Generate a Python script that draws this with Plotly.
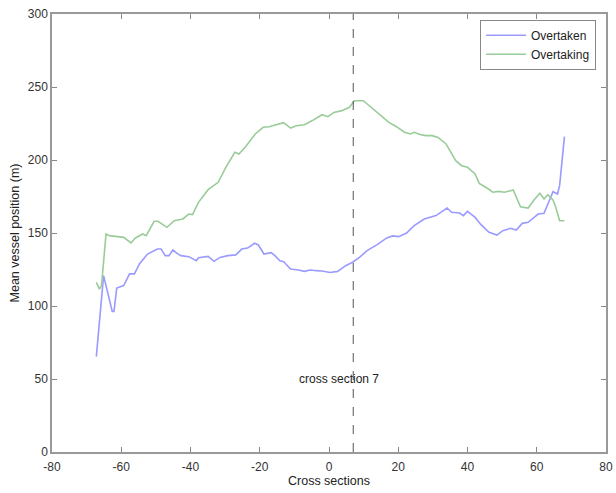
import plotly.graph_objects as go

overtaken_x = [-67.2, -65.1, -62.6, -62.1, -61.3, -59.3, -57.6, -56.2, -54.7, -52.4, -49.6, -48.5, -47.3, -46.2,
               -45.1, -43.9, -42.8, -40.5, -38.3, -37.7, -34.9, -33.2, -31.5, -29.2, -26.9, -25.2, -23.5, -21.5,
               -20.4, -18.8, -16.7, -15.6, -14.2, -13.1, -11.1, -8.8, -7.1, -5.4, -3.7, -2.0, 0.3, 2.5, 4.8, 6.8,
               8.8, 11.0, 13.9, 16.7, 18.4, 20.1, 22.4, 24.6, 27.5, 29.2, 30.9, 32.6, 34.1, 35.4, 37.7, 38.8, 40.0,
               42.2, 43.9, 46.2, 48.5, 50.2, 52.4, 54.1, 55.8, 57.5, 58.7, 60.4, 62.1, 63.2, 64.7, 66.0, 66.6, 68.0]
overtaken_y = [65.3, 120.8, 96.3, 96.3, 112.3, 114.0, 122.0, 122.0, 129.0, 135.6, 139.0, 139.0, 134.5, 134.5,
               138.4, 136.0, 134.5, 133.8, 131.0, 133.0, 134.0, 130.6, 133.3, 134.5, 135.0, 139.0, 139.7, 143.0,
               141.8, 135.6, 136.5, 134.5, 131.0, 130.4, 125.3, 124.7, 123.7, 124.7, 124.2, 124.0, 123.0, 123.7,
               127.6, 130.0, 133.3, 137.9, 142.0, 146.6, 148.0, 147.5, 150.0, 155.0, 159.6, 160.7, 161.9, 164.6,
               167.1, 164.2, 163.7, 161.9, 164.8, 160.7, 155.7, 150.5, 148.6, 151.6, 153.2, 152.0, 156.6, 157.3,
               159.6, 163.0, 163.5, 169.4, 178.3, 176.7, 182.4, 216.0]

overtaking_x = [-67.2, -66.3, -65.7, -64.4, -63.4, -61.0, -59.3, -57.2, -55.9, -53.8, -52.8, -50.5, -49.4, -46.8,
                -44.7, -42.2, -40.5, -39.4, -37.7, -34.9, -33.2, -32.0, -29.8, -27.2, -26.0, -24.1, -21.3, -19.0,
                -17.3, -16.2, -14.5, -13.1, -11.1, -9.4, -7.1, -4.8, -2.0, -0.3, 1.4, 3.7, 5.9, 7.3, 9.9, 11.6,
                13.9, 17.3, 19.5, 21.8, 23.5, 24.6, 26.3, 28.0, 29.8, 31.5, 33.8, 36.6, 38.3, 40.0, 42.2, 43.4,
                45.6, 47.3, 49.0, 50.7, 52.4, 53.2, 55.3, 57.5, 59.2, 60.9, 62.1, 63.2, 64.7, 65.5, 66.6, 68.0]
overtaking_y = [116.2, 111.6, 114.0, 149.3, 148.2, 147.7, 147.0, 143.2, 146.6, 149.3, 148.2, 158.0, 158.0, 153.9,
                158.4, 159.6, 163.0, 162.6, 171.0, 179.7, 182.4, 184.7, 195.0, 205.3, 204.1, 209.1, 217.8, 222.4,
                222.8, 223.5, 224.2, 225.6, 221.9, 223.5, 224.2, 227.0, 231.0, 229.7, 232.6, 233.8, 236.1, 240.6,
                240.6, 237.2, 232.0, 225.8, 222.8, 219.0, 217.8, 219.0, 217.4, 216.7, 216.7, 215.5, 211.0, 199.5,
                196.1, 195.0, 190.4, 184.0, 180.8, 177.9, 178.5, 177.9, 179.0, 179.5, 168.0, 167.1, 172.6, 177.2,
                173.3, 176.3, 172.6, 167.6, 158.4, 158.4]

series_names = ["Overtaken", "Overtaking"]
cross_section = 7
marker_label = "cross section 7"
label_pos = (2.8, 50)

x_ticks = [-80, -60, -40, -20, 0, 20, 40, 60, 80]
y_ticks = [0, 50, 100, 150, 200, 250, 300]

fig = go.Figure()
fig.add_trace(go.Scatter(x=overtaken_x, y=overtaken_y, mode="lines", name=series_names[0],
                         line=dict(color="#9a9aff", width=1.6)))
fig.add_trace(go.Scatter(x=overtaking_x, y=overtaking_y, mode="lines", name=series_names[1],
                         line=dict(color="#99cc99", width=1.6)))

fig.add_shape(type="line", x0=cross_section, x1=cross_section, y0=0, y1=1, xref="x", yref="paper",
              line=dict(color="#555555", width=1, dash="dash"))
fig.add_annotation(x=label_pos[0], y=label_pos[1], text=marker_label, showarrow=False,
                   font=dict(size=12, color="#222222"))

axis_common = dict(showgrid=False, zeroline=False, showline=True, linecolor="#999999", linewidth=1.5,
                   mirror="ticks", ticks="inside", ticklen=5, tickcolor="#888888", automargin=False,
                   tickfont=dict(family="Arial, Liberation Sans", size=12, color="#333333"))

fig.update_layout(
    width=616, height=493,
    margin=dict(l=52, r=10, t=14, b=41),
    paper_bgcolor="white", plot_bgcolor="white",
    font=dict(family="Arial, Liberation Sans", color="#222222"),
    xaxis=dict(range=[-80, 80], tickvals=x_ticks, ticktext=[str(v) for v in x_ticks], ticklabelstandoff=3,
               title=dict(text="Cross sections", font=dict(size=12.5), standoff=0), **axis_common),
    yaxis=dict(range=[0, 300], tickvals=y_ticks, ticktext=[str(v) for v in y_ticks],
               title=dict(text="Mean vessel position (m)", font=dict(size=12.5), standoff=5), **axis_common),
    legend=dict(x=0.982, y=0.987, xanchor="right", yanchor="top", bgcolor="white",
                bordercolor="#888888", borderwidth=1, font=dict(size=12, color="#222222"),
                tracegroupgap=0, itemwidth=40),
    showlegend=True,
)

fig.write_html("out.html", config={"displayModeBar": False},
               post_script="document.body.style.margin='0';document.body.style.padding='0';")
